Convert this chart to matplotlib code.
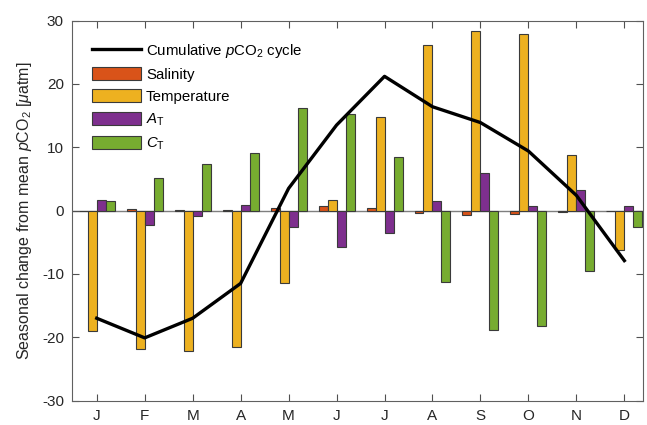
import numpy as np
import matplotlib
matplotlib.use("Agg")
import matplotlib.pyplot as plt

plt.rcParams['font.family'] = ['Liberation Sans', 'DejaVu Sans']
plt.rcParams['mathtext.fontset'] = 'custom'
plt.rcParams['mathtext.rm'] = 'Liberation Sans'
plt.rcParams['mathtext.it'] = 'Liberation Sans:italic'
plt.rcParams['axes.unicode_minus'] = False

months = ['J', 'F', 'M', 'A', 'M', 'J', 'J', 'A', 'S', 'O', 'N', 'D']
cumulative = [-17.0, -20.1, -17.0, -11.5, 3.5, 13.5, 21.2, 16.4, 13.9, 9.4, 2.4, -7.9]
salinity = [0.0, 0.2, 0.15, 0.05, 0.4, 0.65, 0.4, -0.35, -0.7, -0.5, -0.3, -0.1]
temperature = [-19.0, -21.9, -22.2, -21.6, -11.4, 1.7, 14.8, 26.1, 28.3, 27.9, 8.7, -6.3]
alkalinity = [1.7, -2.2, -0.9, 0.95, -2.6, -5.7, -3.5, 1.5, 6.0, 0.8, 3.3, 0.7]
dic = [1.5, 5.2, 7.3, 9.1, 16.2, 15.3, 8.5, -11.2, -18.9, -18.2, -9.5, -2.6]

series = [
    (salinity, '#D95319', 'Salinity'),
    (temperature, '#EDB120', 'Temperature'),
    (alkalinity, '#7E2F8E', r'$A_{\rm T}$'),
    (dic, '#77AC30', r'$C_{\rm T}$'),
]

fig = plt.figure(figsize=(6.47, 4.25), dpi=100)
ax = fig.add_axes([0.1117, 0.0575, 0.8822, 0.894])

x = np.arange(1, 13)
w = 0.1875
offsets = [-1.5 * w, -0.5 * w, 0.5 * w, 1.5 * w]

ax.axhline(0, color='#7f7f7f', lw=1.0, zorder=1)
line, = ax.plot(x, cumulative, color='black', lw=2.4, zorder=4,
                label=r'Cumulative $p$CO$_2$ cycle')
handles = [line]
for (vals, col, lab), off in zip(series, offsets):
    b = ax.bar(x + off, vals, width=w, color=col, edgecolor='#3a3a3a',
               linewidth=0.8, zorder=3, label=lab)
    handles.append(b)

ax.set_xlim(0.49, 12.39)
ax.set_ylim(-30, 30)
ax.set_xticks(x)
ax.set_xticklabels(months)
ax.set_yticks(np.arange(-30, 31, 10))
ax.tick_params(direction='in', top=True, right=True, length=5, width=0.8,
               colors='#505050', labelcolor='#262626', labelsize=11, pad=6)
for s in ax.spines.values():
    s.set_color('#606060')
    s.set_linewidth(0.8)

ax.set_ylabel(r'Seasonal change from mean $p$CO$_2$ [$\mu$atm]', fontsize=11.5,
              color='#262626', labelpad=6)

leg = ax.legend(handles=handles, loc='upper left', frameon=False, fontsize=10.8,
                handlelength=3.3, handleheight=0.95, labelspacing=0.5,
                handletextpad=0.3, borderaxespad=0.3,
                bbox_to_anchor=(0.016, 0.972))

fig.savefig('out.png', dpi=100)
